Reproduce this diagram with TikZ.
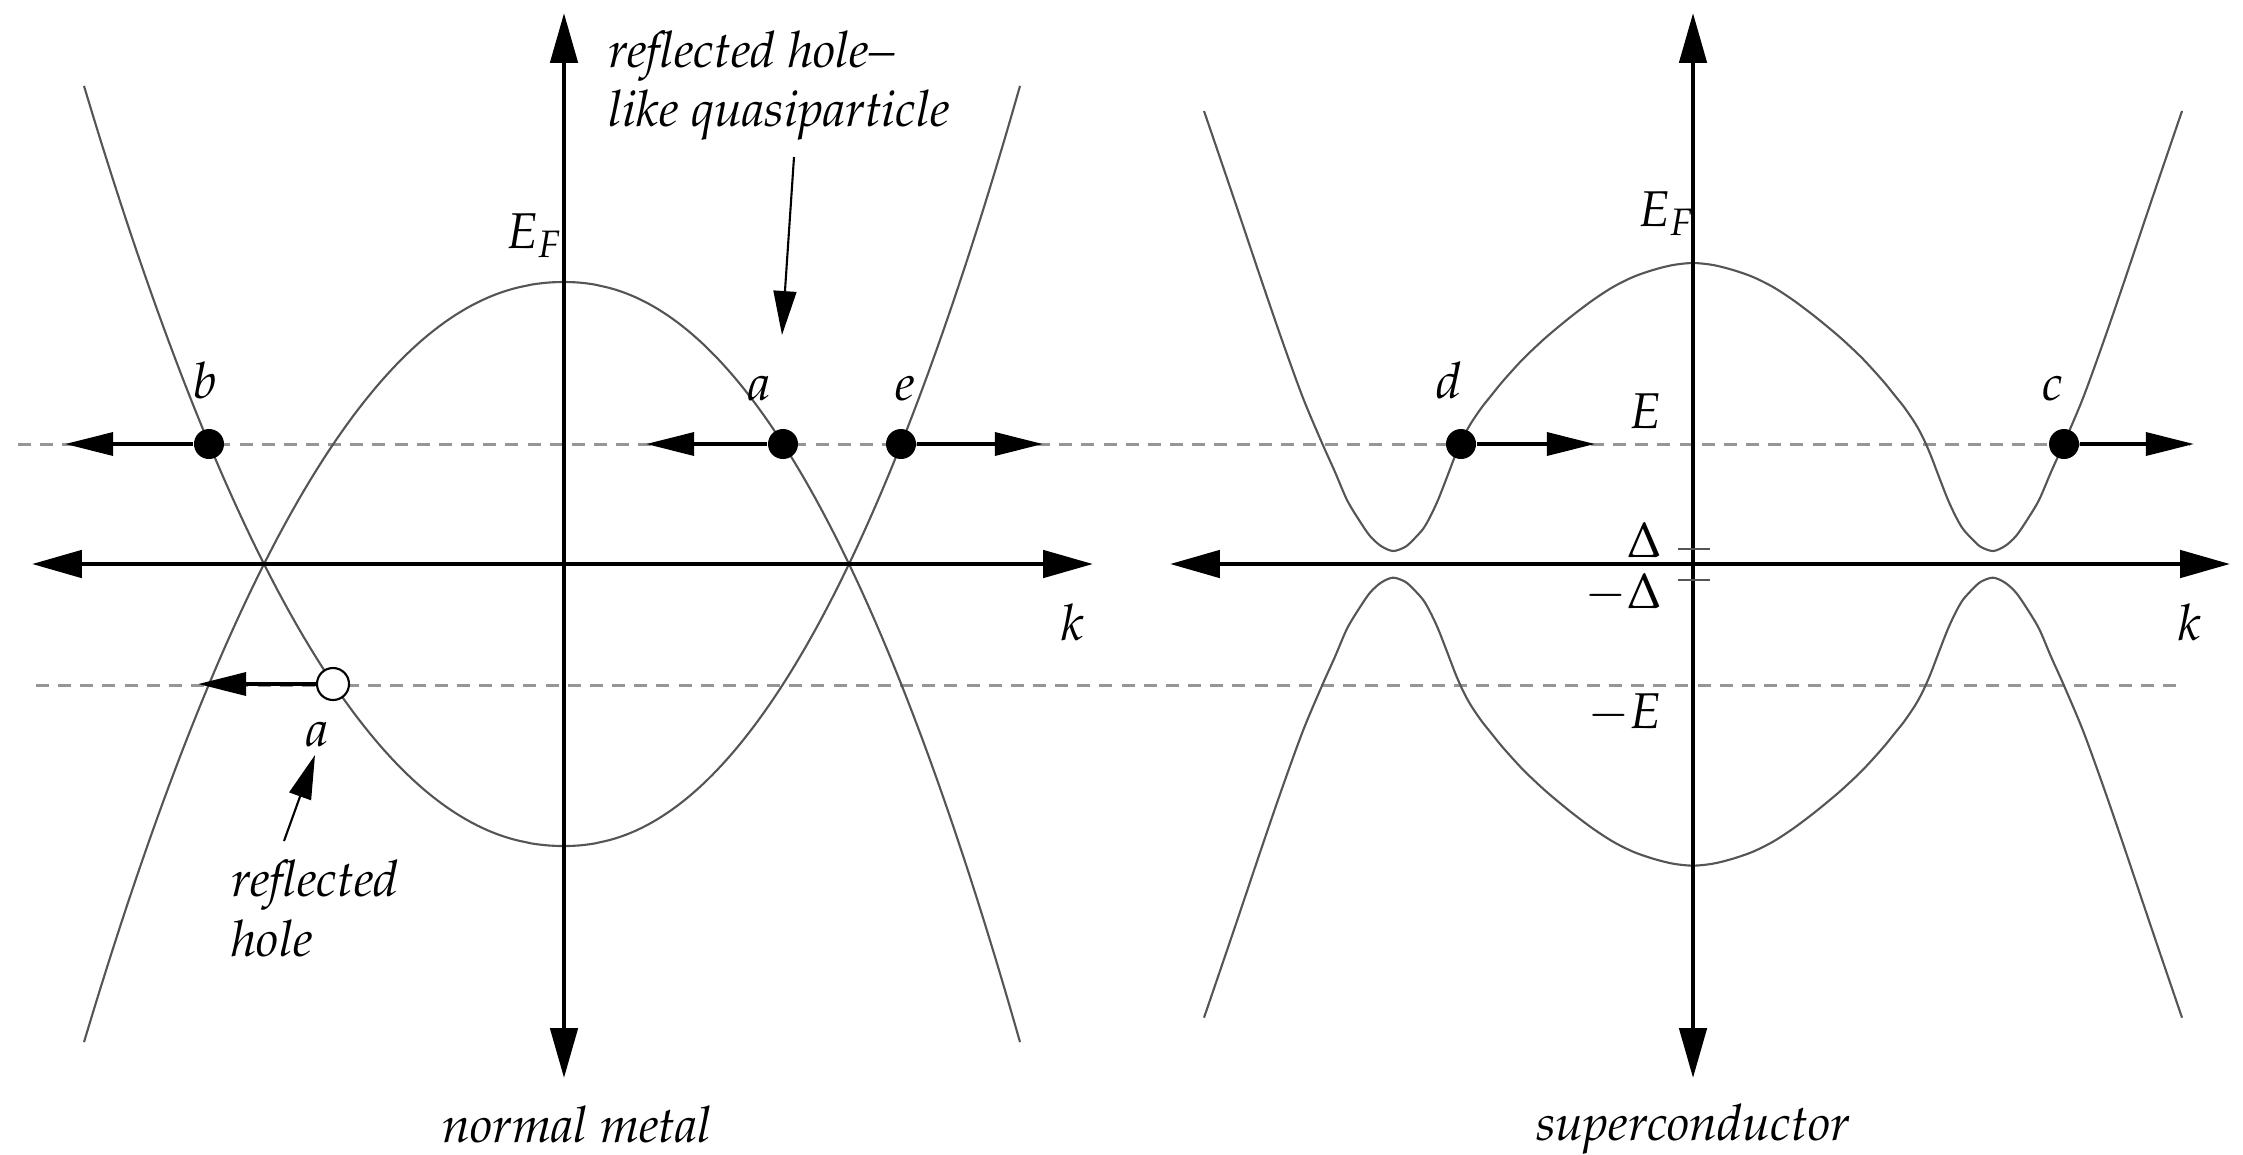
\documentclass[tikz,border=0pt]{standalone}
\usepackage[T1]{fontenc}
\usepackage{mathpazo}
\usetikzlibrary{arrows.meta}
\definecolor{curvegray}{RGB}{85,85,85}
\definecolor{dashgray}{RGB}{150,150,150}
\tikzset{
  lbl/.style={font=\fontsize{14.3pt}{17pt}\selectfont\itshape, inner sep=0pt},
  axisline/.style={line width=1.3pt, {Triangle[length=14.2pt,width=7.7pt]}-{Triangle[length=14.2pt,width=7.7pt]}},
  band/.style={line width=0.6pt, draw=curvegray},
  level/.style={line width=0.85pt, draw=dashgray, dash pattern=on 3.7pt off 2.6pt},
  dotp/.style={circle, fill=black, inner sep=0pt, minimum size=0.3cm},
  holep/.style={circle, draw=black, fill=white, line width=0.6pt, inner sep=0pt, minimum size=0.32cm},
  moveto/.style={line width=1.15pt, -{Triangle[length=13.7pt,width=6.5pt]}},
  pointer/.style={line width=0.6pt, -{Triangle[length=12.5pt,width=6.5pt]}},
  gaptick/.style={line width=0.6pt, draw=curvegray}
}
\newcommand{\scband}{plot[smooth, tension=0.5] coordinates {(1204,111) (1233,196) (1263,285) (1283,343) (1303,398) (1322,443) (1335,472) (1347,500) (1359,520) (1370,536) (1381,546) (1393,551) (1405,547) (1413,540) (1423,529) (1430,517) (1438,500) (1447,477) (1455,456) (1461,442) (1467,430) (1473,420) (1482,407) (1490,397) (1503,381) (1523,359) (1543,340) (1557,328) (1573,315) (1593,300) (1613,287) (1633,277) (1653,270) (1673,265) (1693,263) (1713,265) (1733,270) (1753,277) (1773,287) (1793,300) (1813,315) (1829,328) (1843,340) (1863,359) (1883,381) (1896,397) (1904,407) (1913,420) (1919,430) (1925,442) (1931,456) (1939,477) (1948,500) (1956,517) (1963,529) (1973,540) (1981,547) (1993,551) (2005,546) (2016,536) (2027,520) (2039,500) (2051,472) (2064,443) (2083,398) (2103,343) (2123,285) (2153,196) (2182,111)}}
\begin{document}
\begin{tikzpicture}[x=0.01cm,y=-0.01cm]
\useasboundingbox (0,0) rectangle (2243,1154);

% energy levels E and -E
\coordinate (Ls) at (18,444);
\coordinate (Le) at (2190,444);
\coordinate (Ms) at (36,685);
\coordinate (Me) at (2177,685);
\draw[level] (Ls) -- (Le);
\draw[level] (Ms) -- (Me);

% ---------- normal metal ----------
% hole-like band (opening downward)
\draw[band] plot[domain=480:0.5, samples=90] ({564-\x},{564-282*(1-(\x/300)^2.11)})
  -- plot[domain=0.5:480, samples=90] ({564+0.95*\x},{564-282*(1-(\x/300)^2.11)});
% electron-like band (opening upward)
\draw[band] plot[domain=480:0.5, samples=90] ({564-\x},{564+282*(1-(\x/300)^2.11)})
  -- plot[domain=0.5:480, samples=90] ({564+0.95*\x},{564+282*(1-(\x/300)^2.11)});

\coordinate (N1t) at (564,13);
\coordinate (N1b) at (564,1078);
\coordinate (N1l) at (32,564);
\coordinate (N1r) at (1093,564);
\draw[axisline] (N1b) -- (N1t);
\draw[axisline] (N1l) -- (N1r);

% ---------- superconductor ----------
\draw[band] \scband;
\begin{scope}[yshift=-11.28cm, yscale=-1]
  \draw[band] \scband;
\end{scope}

\coordinate (S1t) at (1693,13);
\coordinate (S1b) at (1693,1078);
\coordinate (S1l) at (1170,564);
\coordinate (S1r) at (2230,564);
\draw[axisline] (S1b) -- (S1t);
\draw[axisline] (S1l) -- (S1r);

\coordinate (T1a) at (1678,549);
\coordinate (T1b) at (1710,549);
\coordinate (T2a) at (1678,580);
\coordinate (T2b) at (1710,580);
\draw[gaptick] (T1a) -- (T1b);
\draw[gaptick] (T2a) -- (T2b);

% ---------- quasiparticles ----------
\node[dotp] (b) at (209,444) {};
\node[dotp] (a) at (783,444) {};
\node[dotp] (e) at (901,444) {};
\node[dotp] (d) at (1461,444) {};
\node[dotp] (c) at (2064,444) {};
\node[holep] (h) at (333,684) {};

\coordinate (bt) at (65,444);
\coordinate (at) at (646,444);
\coordinate (et) at (1043,444);
\coordinate (dt) at (1595,444);
\coordinate (ct) at (2194,444);
\coordinate (ht) at (198,684);
\draw[moveto] (b) -- (bt);
\draw[moveto] (a) -- (at);
\draw[moveto] (e) -- (et);
\draw[moveto] (d) -- (dt);
\draw[moveto] (c) -- (ct);
\draw[moveto] (h) -- (ht);

% ---------- labels ----------
\node[lbl, anchor=base] (lb) at (205,398) {b};
\node[lbl, anchor=base] (la) at (760,400) {a};
\node[lbl, anchor=base] (le) at (905,400) {e};
\node[lbl, anchor=base] (ld) at (1449,398) {d};
\node[lbl, anchor=base] (lc) at (2053,400) {c};
\node[lbl, anchor=base] (lha) at (318,746) {a};
\node[lbl, anchor=base west] (EF1) at (505,248) {$E_F$};
\node[lbl, anchor=base west] (EF2) at (1637,226) {$E_F$};
\node[lbl, anchor=base east] (Elbl) at (1663,428) {$E$};
\node[lbl, anchor=base east] (Dlbl) at (1663,557) {$\Delta$};
\node[lbl, anchor=base east] (mDlbl) at (1663,608) {$-\Delta$};
\node[lbl, anchor=base east] (mElbl) at (1663,728) {$-E$};
\node[lbl, anchor=base] (k1) at (1073,640) {$k$};
\node[lbl, anchor=base] (k2) at (2190,640) {$k$};
\node[lbl, anchor=base west] (rh1) at (608,67) {reflected hole--};
\node[lbl, anchor=base west] (rh2) at (608,126) {like quasiparticle};
\node[lbl, anchor=base west] (rf1) at (231,896) {reflected};
\node[lbl, anchor=base west] (rf2) at (231,956) {hole};
\node[lbl, anchor=base] (nm) at (577,1142) {normal metal};
\node[lbl, anchor=base] (sc) at (1693,1140) {superconductor};

% pointers
\coordinate (p1s) at (794,157);
\coordinate (p1e) at (782,335);
\draw[pointer] (p1s) -- (p1e);
\coordinate (p2s) at (284,841);
\coordinate (p2e) at (315,755);
\draw[pointer] (p2s) -- (p2e);
\end{tikzpicture}
\end{document}
